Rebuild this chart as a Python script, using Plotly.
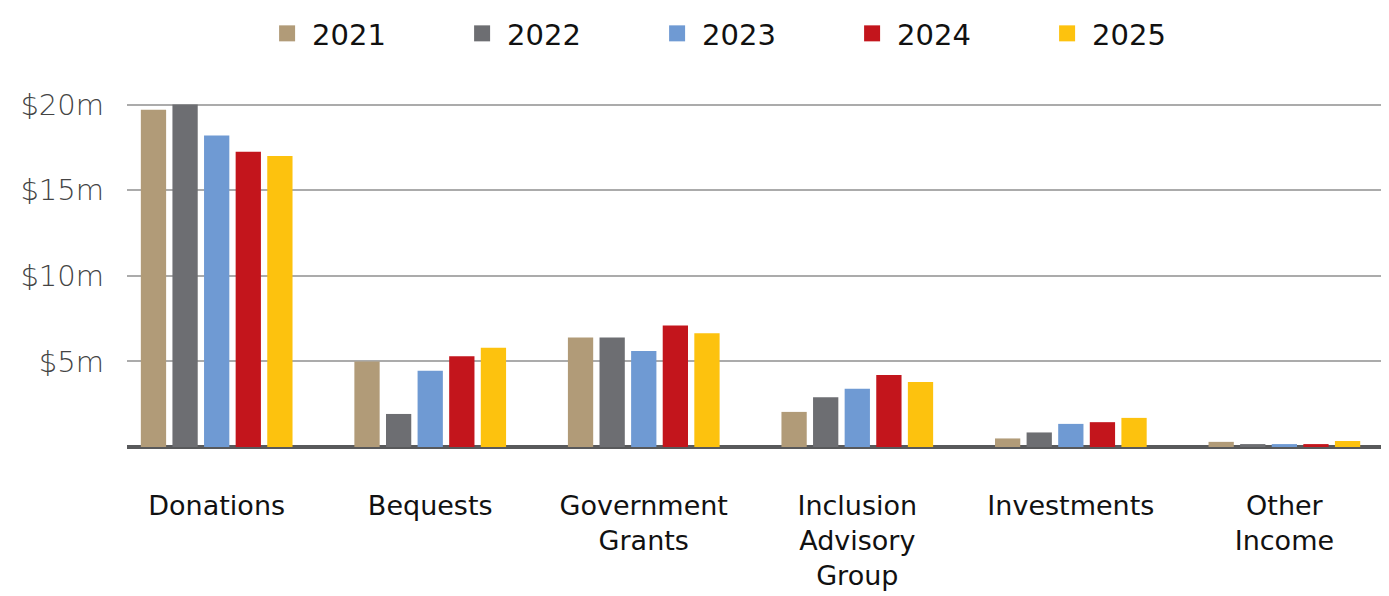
import plotly.graph_objects as go

categories = ["Donations", "Bequests", "Government<br>Grants", "Inclusion<br>Advisory<br>Group", "Investments", "Other<br>Income"]
years = ["2021", "2022", "2023", "2024", "2025"]
values = {
    "2021": [19.7, 5.0, 6.4, 2.05, 0.5, 0.3],
    "2022": [20.0, 1.93, 6.4, 2.9, 0.85, 0.17],
    "2023": [18.2, 4.45, 5.6, 3.4, 1.35, 0.17],
    "2024": [17.25, 5.3, 7.1, 4.2, 1.45, 0.17],
    "2025": [17.0, 5.8, 6.65, 3.8, 1.7, 0.35],
}
colors = {"2021": "#B19B78", "2022": "#6D6E72", "2023": "#6F9AD3", "2024": "#C3151C", "2025": "#FDC20E"}
tick_vals = [5, 10, 15, 20]
tick_text = ["$5m", "$10m", "$15m", "$20m"]

fig = go.Figure()
for y in years:
    fig.add_trace(go.Bar(x=list(range(len(categories))), y=values[y], name=y, showlegend=False,
                         legendgroup=y, marker=dict(color=colors[y], line=dict(width=0))))
# legend entries with larger square swatches
for y in years:
    fig.add_trace(go.Scatter(x=[None], y=[None], mode="markers", name=y, legendgroup=y,
                             marker=dict(symbol="square", size=36, color=colors[y])))

fig.update_layout(
    width=1381, height=588,
    barmode="group", bargap=0.26, bargroupgap=0.2,
    plot_bgcolor="white", paper_bgcolor="white",
    margin=dict(l=119, r=0, t=94, b=149),
    font=dict(family="DejaVu Sans", color="#111"),
    legend=dict(orientation="h", xref="container", yref="container",
                x=0.537, xanchor="center", y=1.0, yanchor="top",
                font=dict(size=29, color="#111", family="DejaVu Sans"),
                entrywidth=140, entrywidthmode="pixels", itemwidth=40, itemsizing="trace"),
    showlegend=True,
)
fig.update_xaxes(tickmode="array", tickvals=list(range(len(categories))), ticktext=categories,
                 range=[-0.42, 5.49], showgrid=False, showline=False, ticks="", automargin=False,
                 tickfont=dict(size=27, color="#111"), ticklabelstandoff=40)
fig.update_yaxes(range=[0, 20.15], tickmode="array", tickvals=tick_vals, ticktext=tick_text,
                 showgrid=True, gridcolor="#ABABAB", gridwidth=1.5, automargin=False,
                 zeroline=True, zerolinecolor="#58595B", zerolinewidth=4,
                 tickfont=dict(size=29, color="#444", family="DejaVu Sans", weight=300),
                 ticklabelstandoff=22, showline=False)

fig.write_html("out.html")
